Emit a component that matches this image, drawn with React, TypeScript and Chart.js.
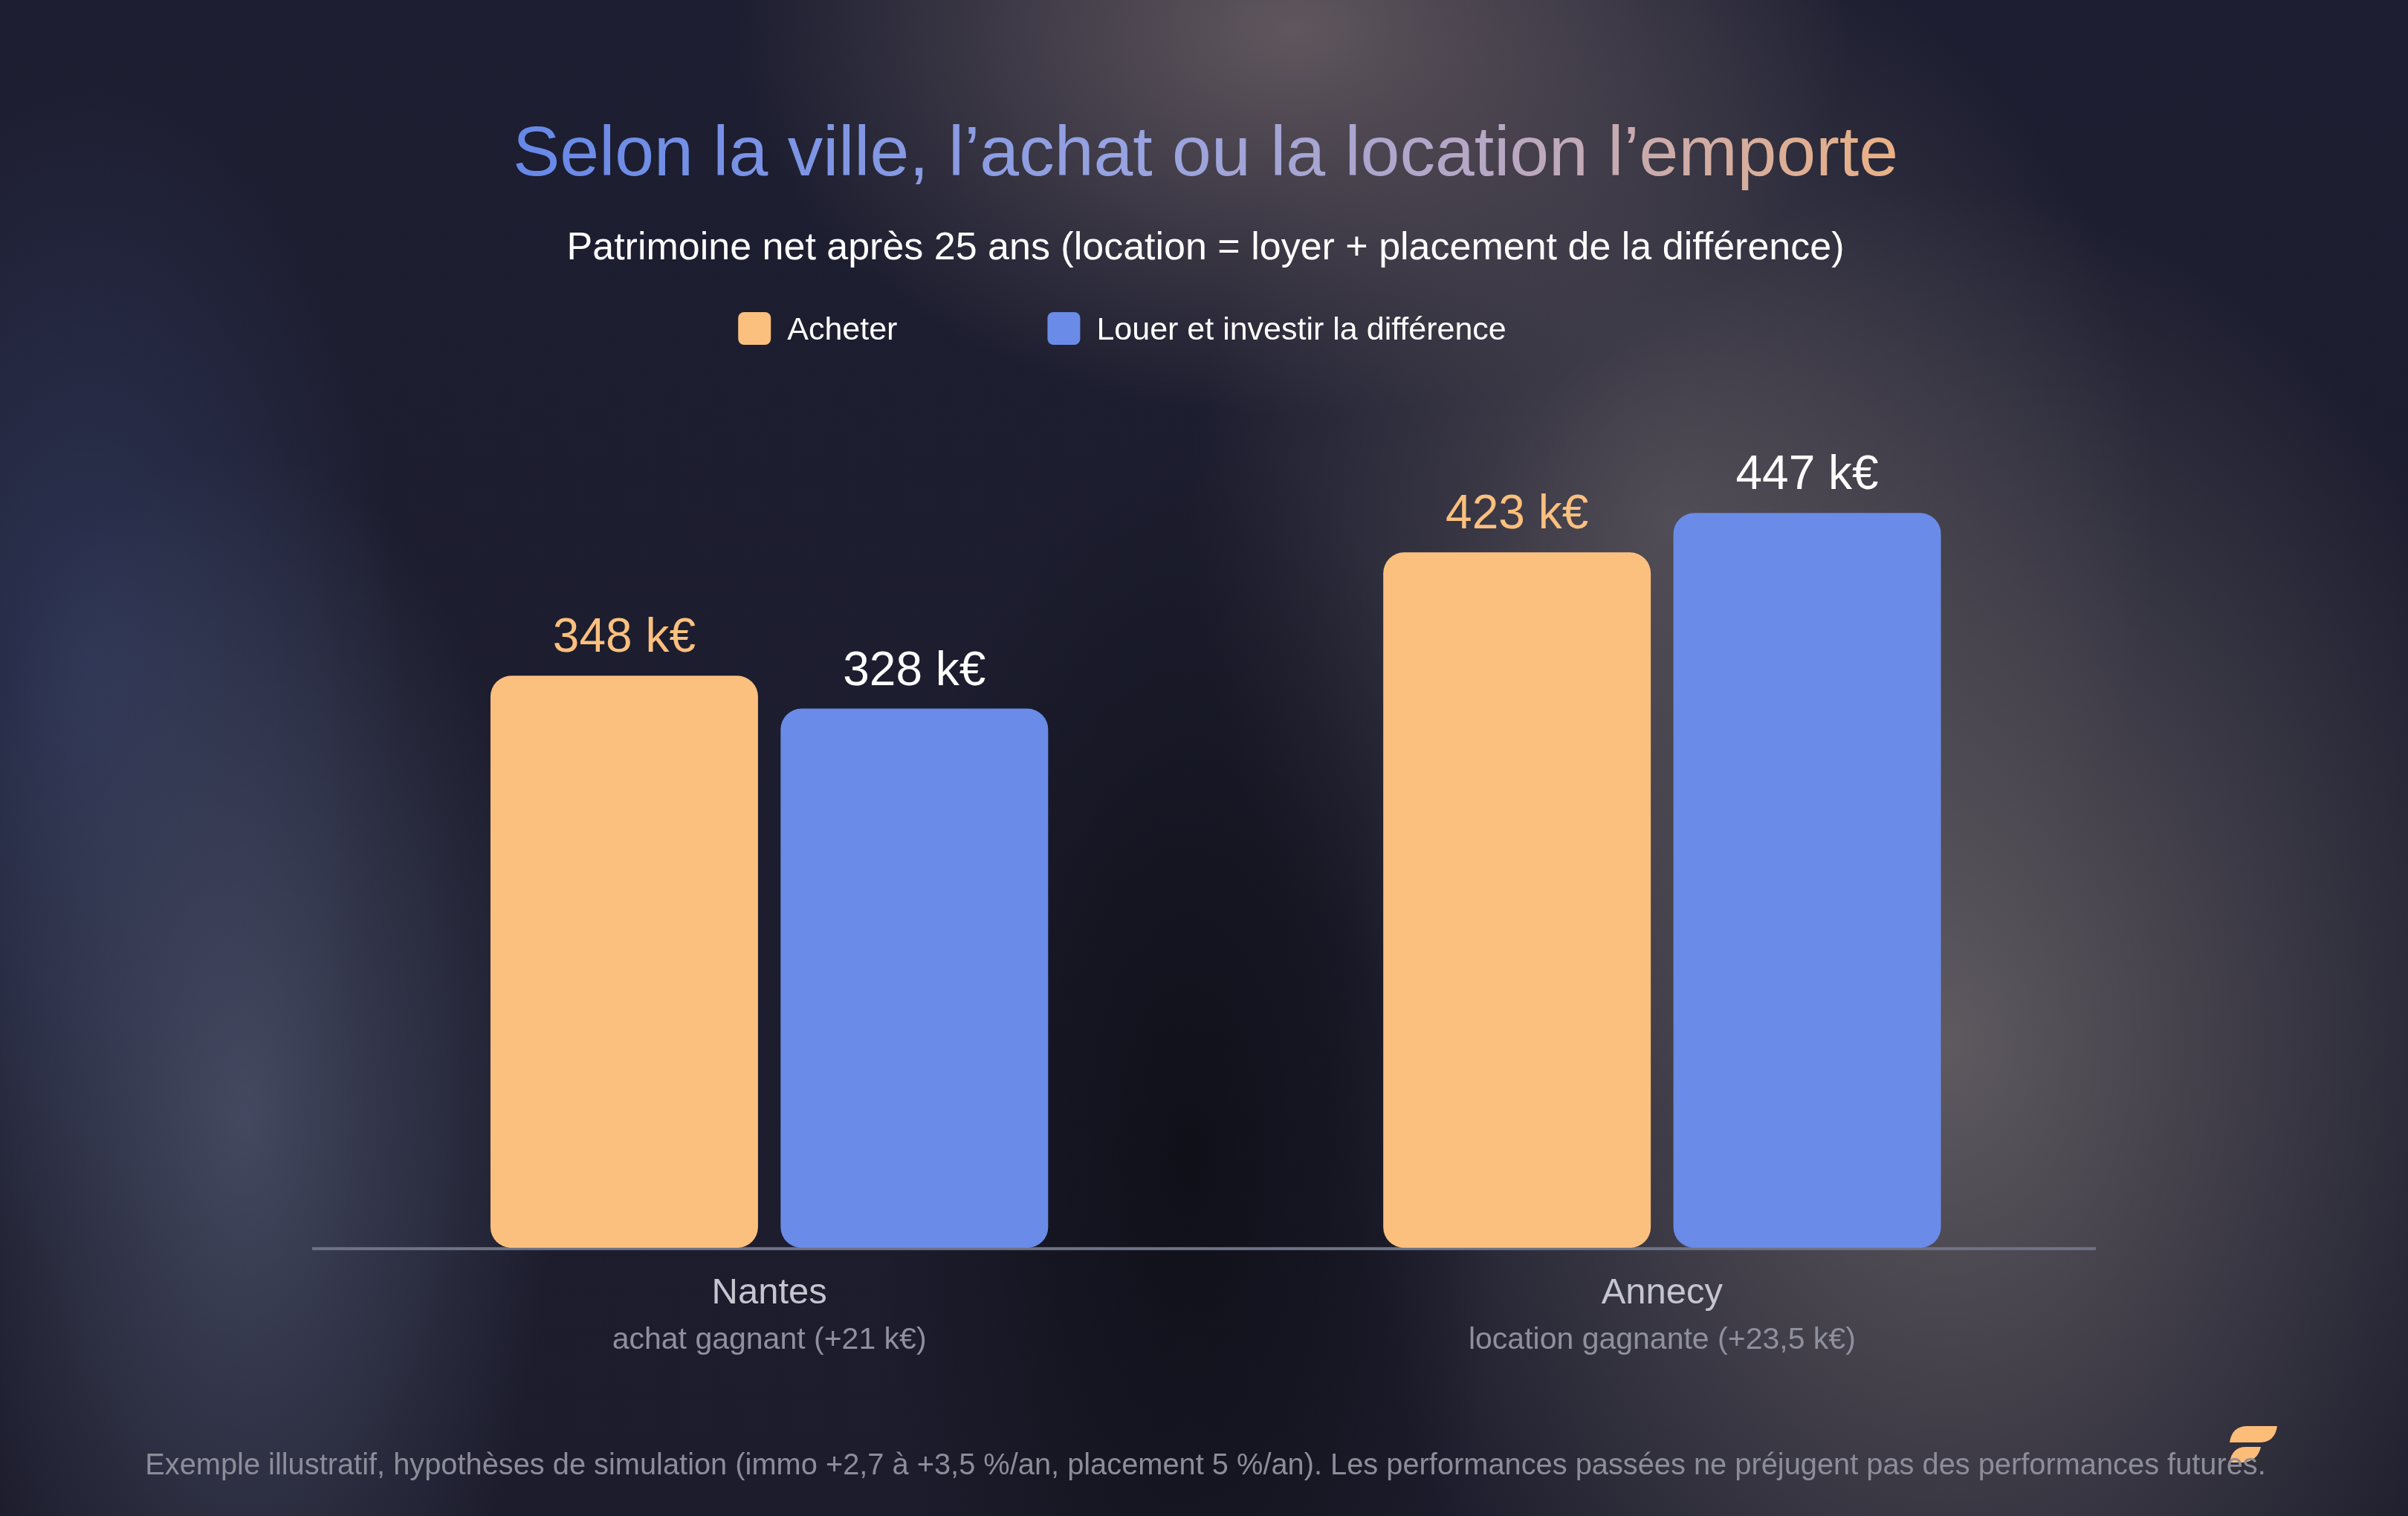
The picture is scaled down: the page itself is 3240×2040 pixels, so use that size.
import React, { useEffect, useRef } from "react";
import { Chart, registerables } from "chart.js";

Chart.register(...registerables);

// ---------- data ----------
const categories = ["Nantes", "Annecy"];
const categoryNotes = ["achat gagnant (+21 k€)", "location gagnante (+23,5 k€)"];
const seriesLabels = ["Acheter", "Louer et investir la différence"];
const acheterValues = [348, 423];
const louerValues = [328, 447];
const yRange = [0, 500];
const valueUnit = " k€";

const titleText = "Selon la ville, l’achat ou la location l’emporte";
const subtitleText = "Patrimoine net après 25 ans (location = loyer + placement de la différence)";
const footerText =
  "Exemple illustratif, hypothèses de simulation (immo +2,7 à +3,5 %/an, placement 5 %/an). Les performances passées ne préjugent pas des performances futures.";

// ---------- styles ----------
const FONT = "'Liberation Sans', Arial, sans-serif";
const ORANGE = "#FBC07E";
const BLUE = "#6A8BE8";
const seriesColors = [ORANGE, BLUE];
const valueLabelColors = [ORANGE, "#FFFFFF"];

const BG = [
  "radial-gradient(ellipse 420px 1000px at 1600px 1560px, rgba(14,14,22,0.85) 0%, rgba(14,14,22,0) 100%)",
  "radial-gradient(ellipse 750px 520px at 1740px 40px, rgba(100,90,96,0.95) 0%, rgba(100,90,96,0) 100%)",
  "radial-gradient(ellipse 820px 1150px at 2620px 1400px, rgba(98,93,98,0.95) 0%, rgba(98,93,98,0) 100%)",
  "radial-gradient(ellipse 650px 800px at 2250px 700px, rgba(92,86,94,0.75) 0%, rgba(92,86,94,0) 100%)",
  "radial-gradient(ellipse 420px 900px at 330px 1500px, rgba(74,80,104,0.85) 0%, rgba(74,80,104,0) 100%)",
  "radial-gradient(ellipse 420px 800px at 120px 900px, rgba(52,62,100,0.7) 0%, rgba(52,62,100,0) 100%)",
  "linear-gradient(180deg, #1d1e31 0%, #1c1c2c 100%)",
].join(", ");

const decorPlugin = {
  id: "decor",
  beforeDatasetsDraw(chart: any) {
    const { ctx, chartArea } = chart;
    const y0 = chart.scales.y.getPixelForValue(yRange[0]);
    ctx.save();
    ctx.strokeStyle = "#6f7387";
    ctx.lineWidth = 4;
    ctx.beginPath();
    ctx.moveTo(chartArea.left - 14.5, y0 + 1);
    ctx.lineTo(chartArea.right - 17, y0 + 1);
    ctx.stroke();
    ctx.restore();
  },
  afterDatasetsDraw(chart: any) {
    const { ctx, chartArea } = chart;
    ctx.save();
    // value labels
    ctx.font = `64px ${FONT}`;
    ctx.textAlign = "center";
    ctx.textBaseline = "alphabetic";
    chart.data.datasets.forEach((ds: any, di: number) => {
      const meta = chart.getDatasetMeta(di);
      ctx.fillStyle = valueLabelColors[di];
      meta.data.forEach((bar: any, i: number) => {
        ctx.fillText(`${ds.data[i]}${valueUnit}`, bar.x, bar.y - 32);
      });
    });
    // category notes
    const xs = chart.scales.x;
    ctx.font = `41px ${FONT}`;
    ctx.fillStyle = "#8f909e";
    categoryNotes.forEach((t, i) => {
      ctx.fillText(t, xs.getPixelForValue(i), chartArea.bottom + 136);
    });
    ctx.restore();
  },
  afterDraw(chart: any) {
    const { ctx, chartArea, width, height } = chart;
    ctx.save();
    // legend
    ctx.font = `43px ${FONT}`;
    const box = 44;
    const gap = 22;
    const spacing = 202;
    const widths = seriesLabels.map((l) => ctx.measureText(l).width);
    const total = widths.reduce((a, w) => a + box + gap + w, 0) + spacing * (seriesLabels.length - 1);
    let x = width / 2 - 110 - total / 2;
    const cy = chartArea.top - 131;
    ctx.textAlign = "left";
    ctx.textBaseline = "alphabetic";
    seriesLabels.forEach((l, i) => {
      ctx.fillStyle = seriesColors[i];
      ctx.beginPath();
      (ctx as any).roundRect(x, cy - box / 2, box, box, 8);
      ctx.fill();
      ctx.fillStyle = "#FFFFFF";
      ctx.fillText(l, x + box + gap, cy + 15);
      x += box + gap + widths[i] + spacing;
    });
    // logo
    ctx.fillStyle = "#FCBD79";
    ctx.beginPath();
    ctx.moveTo(3000, 1941);
    ctx.quadraticCurveTo(3003, 1919, 3024, 1919);
    ctx.lineTo(3064, 1919);
    ctx.quadraticCurveTo(3061, 1941, 3040, 1941);
    ctx.closePath();
    ctx.fill();
    ctx.beginPath();
    ctx.moveTo(3000, 1968);
    ctx.quadraticCurveTo(3003, 1947, 3022, 1947);
    ctx.lineTo(3042, 1947);
    ctx.quadraticCurveTo(3038, 1966, 3018, 1968);
    ctx.closePath();
    ctx.fill();
    // footer
    ctx.font = `39.8px ${FONT}`;
    ctx.fillStyle = "#8d8d9a";
    ctx.textAlign = "center";
    ctx.fillText(footerText, width / 2 + 2, height - 56);
    ctx.restore();
  },
};

export default function App() {
  const ref = useRef<HTMLCanvasElement>(null);
  useEffect(() => {
    const canvas = ref.current!;
    const c2d = canvas.getContext("2d")!;
    // title is drawn translated to its centre, so the gradient is centre-relative
    const grad = c2d.createLinearGradient(-934, 0, 934, 0);
    grad.addColorStop(0, "#6688E8");
    grad.addColorStop(0.45, "#98A3E0");
    grad.addColorStop(0.72, "#B9A8C2");
    grad.addColorStop(1, "#EAB184");

    const chart = new Chart(canvas, {
      type: "bar",
      data: {
        labels: categories,
        datasets: [
          {
            label: seriesLabels[0],
            data: acheterValues,
            backgroundColor: seriesColors[0],
            borderRadius: 28,
            borderSkipped: false,
            categoryPercentage: 0.65,
            barPercentage: 0.922,
          },
          {
            label: seriesLabels[1],
            data: louerValues,
            backgroundColor: seriesColors[1],
            borderRadius: 28,
            borderSkipped: false,
            categoryPercentage: 0.65,
            barPercentage: 0.922,
          },
        ],
      },
      options: {
        responsive: false,
        animation: false,
        devicePixelRatio: 1,
        layout: { padding: { left: 407, right: 403, top: 0, bottom: 238 } },
        plugins: {
          legend: { display: false },
          tooltip: { enabled: false },
          title: {
            display: true,
            text: titleText,
            color: grad as any,
            font: { family: FONT, size: 95, weight: "normal", lineHeight: 1.2 },
            padding: { top: 153, bottom: 0 },
          },
          subtitle: {
            display: true,
            text: subtitleText,
            color: "#FFFFFF",
            font: { family: FONT, size: 52, weight: "normal", lineHeight: 1.2 },
            padding: { top: 36, bottom: 207.6 },
          },
        },
        scales: {
          x: {
            grid: { display: false, drawTicks: false },
            border: { display: false },
            ticks: {
              color: "#C4C5CF",
              font: { family: FONT, size: 49 },
              padding: 32,
            },
          },
          y: {
            min: yRange[0],
            max: yRange[1],
            grid: { display: false, drawTicks: false },
            border: { display: false },
            ticks: { display: false },
            afterFit: (axis: any) => {
              axis.width = 27.5;
            },
          },
        },
      },
      plugins: [decorPlugin],
    });
    return () => chart.destroy();
  }, []);

  return (
    <div
      style={{
        position: "absolute",
        left: 0,
        top: 0,
        width: 3240,
        height: 2040,
        background: BG,
        overflow: "hidden",
      }}
    >
      <canvas ref={ref} width={3240} height={2040} style={{ display: "block", width: 3240, height: 2040 }} />
    </div>
  );
}
